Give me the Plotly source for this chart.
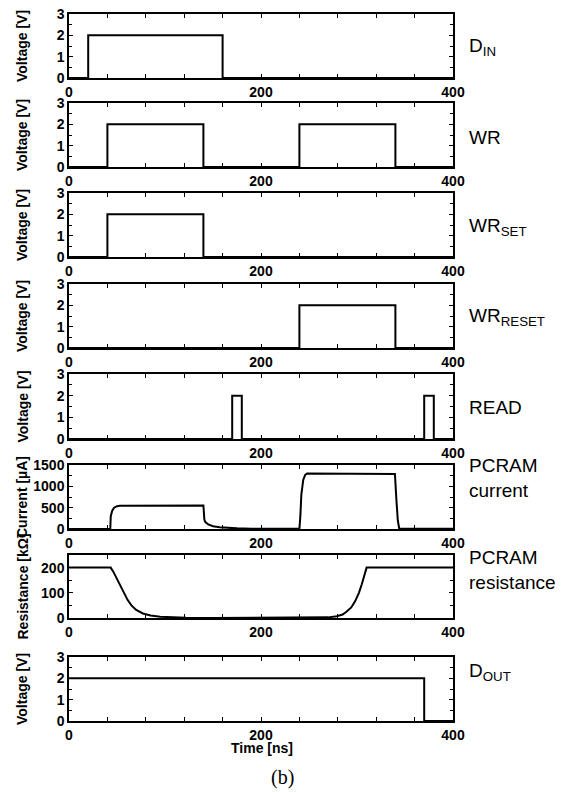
import plotly.graph_objects as go

# ---------------- data ----------------
din_t = [0, 20, 160, 400]
din_v = [0, 2, 0, 0]

wr_t = [0, 40, 140, 240, 340, 400]
wr_v = [0, 2, 0, 2, 0, 0]

wrset_t = [0, 40, 140, 400]
wrset_v = [0, 2, 0, 0]

wrreset_t = [0, 240, 340, 400]
wrreset_v = [0, 2, 0, 0]

read_t = [0, 170, 180, 370, 380, 400]
read_v = [0, 2, 0, 2, 0, 0]

cur_t = [0, 43, 43.5, 45, 47, 50, 53, 100, 140, 141, 142, 145, 150, 157, 165, 175, 190, 210, 240,
         241, 242, 244, 246, 248, 300, 339.5, 341, 342.5, 344, 400]
cur_i = [0, 0, 300, 430, 500, 535, 545, 548, 550, 220, 160, 110, 65, 40, 25, 15, 8, 5, 3,
         300, 800, 1150, 1270, 1300, 1300, 1290, 700, 200, 5, 3]

res_t = [0, 43.4, 46, 50, 53, 57, 61, 65, 70, 77, 85, 95, 108, 122, 150, 200, 250, 262, 270,
         279, 285, 289, 294, 298, 302, 305, 308, 310, 311, 400]
res_r = [200, 200, 185, 155, 130, 100, 72, 50, 32, 18, 10, 5, 2, 1, 0.3, 0.2, 0.5, 1, 2.5,
         7, 14, 25, 42, 66, 100, 134, 172, 200, 200, 200]

dout_t = [0, 370, 400]
dout_v = [2, 0, 0]

x_ticks = [0, 200, 400]

panels = [
    dict(t=din_t, y=din_v, shape="hv", title="Voltage [V]", label="D<sub>IN</sub>", rng=[0, 3], dt=1, mdt=0.5),
    dict(t=wr_t, y=wr_v, shape="hv", title="Voltage [V]", label="WR", rng=[0, 3], dt=1, mdt=0.5),
    dict(t=wrset_t, y=wrset_v, shape="hv", title="Voltage [V]", label="WR<sub>SET</sub>", rng=[0, 3], dt=1, mdt=0.5),
    dict(t=wrreset_t, y=wrreset_v, shape="hv", title="Voltage [V]", label="WR<sub>RESET</sub>", rng=[0, 3], dt=1, mdt=0.5),
    dict(t=read_t, y=read_v, shape="hv", title="Voltage [V]", label="READ", rng=[0, 3], dt=1, mdt=0.5),
    dict(t=cur_t, y=cur_i, shape="linear", title="Current [µA]", label="PCRAM<br>current", rng=[0, 1500], dt=500, mdt=250),
    dict(t=res_t, y=res_r, shape="linear", title="Resistance [kΩ]", label="PCRAM<br>resistance", rng=[0, 250], dt=100, mdt=50),
    dict(t=dout_t, y=dout_v, shape="hv", title="Voltage [V]", label="D<sub>OUT</sub>", rng=[0, 3], dt=1, mdt=0.5),
]

# ---------------- layout geometry (page pixels) ----------------
PAGE_W, PAGE_H = 570, 792
OFF = 8  # default body margin of the html page
W, H = PAGE_W - OFF, PAGE_H - OFF
L, R, T, B = 69, 453, 14, 721  # plot area in page pixels
panel_px = [(14, 78), (103, 167), (193, 257), (284, 348), (374, 439), (465, 529), (555, 618), (657, 721)]
label_y_px = [47, 137, 227, 317, 407, 478, 570, 672]
ph = B - T
pw = R - L

def fy(py):
    return (B - py) / ph

def fx(px):
    return (px - L) / pw

FONT = "Liberation Sans, Arial, sans-serif"

fig = go.Figure()
annotations = []
layout = {}
for i, p in enumerate(panels):
    n = "" if i == 0 else str(i + 1)
    fig.add_trace(go.Scatter(x=p["t"], y=p["y"], mode="lines", line=dict(color="black", width=2, shape=p["shape"]),
                             xaxis="x" + n, yaxis="y" + n, showlegend=False, hoverinfo="skip"))
    top, bot = panel_px[i]
    layout["xaxis" + n] = dict(
        domain=[0, 1], anchor="y" + n, range=[0, 400], tickmode="array", tickvals=x_ticks,
        ticks="inside", ticklen=4, tickwidth=1, tickcolor="black",
        minor=dict(dtick=40, tick0=0, ticks="inside", ticklen=4, tickwidth=1, tickcolor="black"),
        showline=True, linecolor="black", linewidth=1.5, mirror="ticks",
        showgrid=False, zeroline=False, ticklabeloverflow="allow",
        tickfont=dict(family=FONT, size=14, color="black", weight="bold"),
    )
    layout["yaxis" + n] = dict(
        domain=[fy(bot), fy(top)], anchor="x" + n, range=p["rng"], dtick=p["dt"], tick0=0,
        ticks="inside", ticklen=4, tickwidth=1, tickcolor="black",
        minor=dict(dtick=p["mdt"], tick0=0, ticks="inside", ticklen=3, tickwidth=1, tickcolor="black"),
        showline=True, linecolor="black", linewidth=1.5, mirror="ticks",
        showgrid=False, zeroline=False, ticklabeloverflow="allow",
        tickfont=dict(family=FONT, size=14, color="black", weight="bold"),
    )
    annotations.append(dict(
        text=p["title"], xref="paper", yref="paper", x=fx(22), y=fy((top + bot) / 2),
        xanchor="center", yanchor="middle", textangle=-90, showarrow=False,
        font=dict(family=FONT, size=14, color="black", weight="bold"),
    ))
    annotations.append(dict(
        text=p["label"], xref="paper", yref="paper", x=fx(467), y=fy(label_y_px[i]),
        xanchor="left", yanchor="middle", align="left", showarrow=False,
        font=dict(family=FONT, size=19, color="black"),
    ))

annotations.append(dict(
    text="Time [ns]", xref="paper", yref="paper", x=fx(262), y=fy(748),
    xanchor="center", yanchor="middle", showarrow=False,
    font=dict(family=FONT, size=14, color="black", weight="bold"),
))
annotations.append(dict(
    text="(b)", xref="paper", yref="paper", x=fx(282), y=fy(777),
    xanchor="center", yanchor="middle", showarrow=False,
    font=dict(family="Liberation Serif, Times New Roman, serif", size=20, color="black"),
))

fig.update_layout(
    width=W, height=H,
    margin=dict(l=L - OFF, r=PAGE_W - R, t=T - OFF, b=PAGE_H - B, autoexpand=False),
    paper_bgcolor="white", plot_bgcolor="white",
    annotations=annotations,
    **layout,
)

fig.write_html("out.html")
